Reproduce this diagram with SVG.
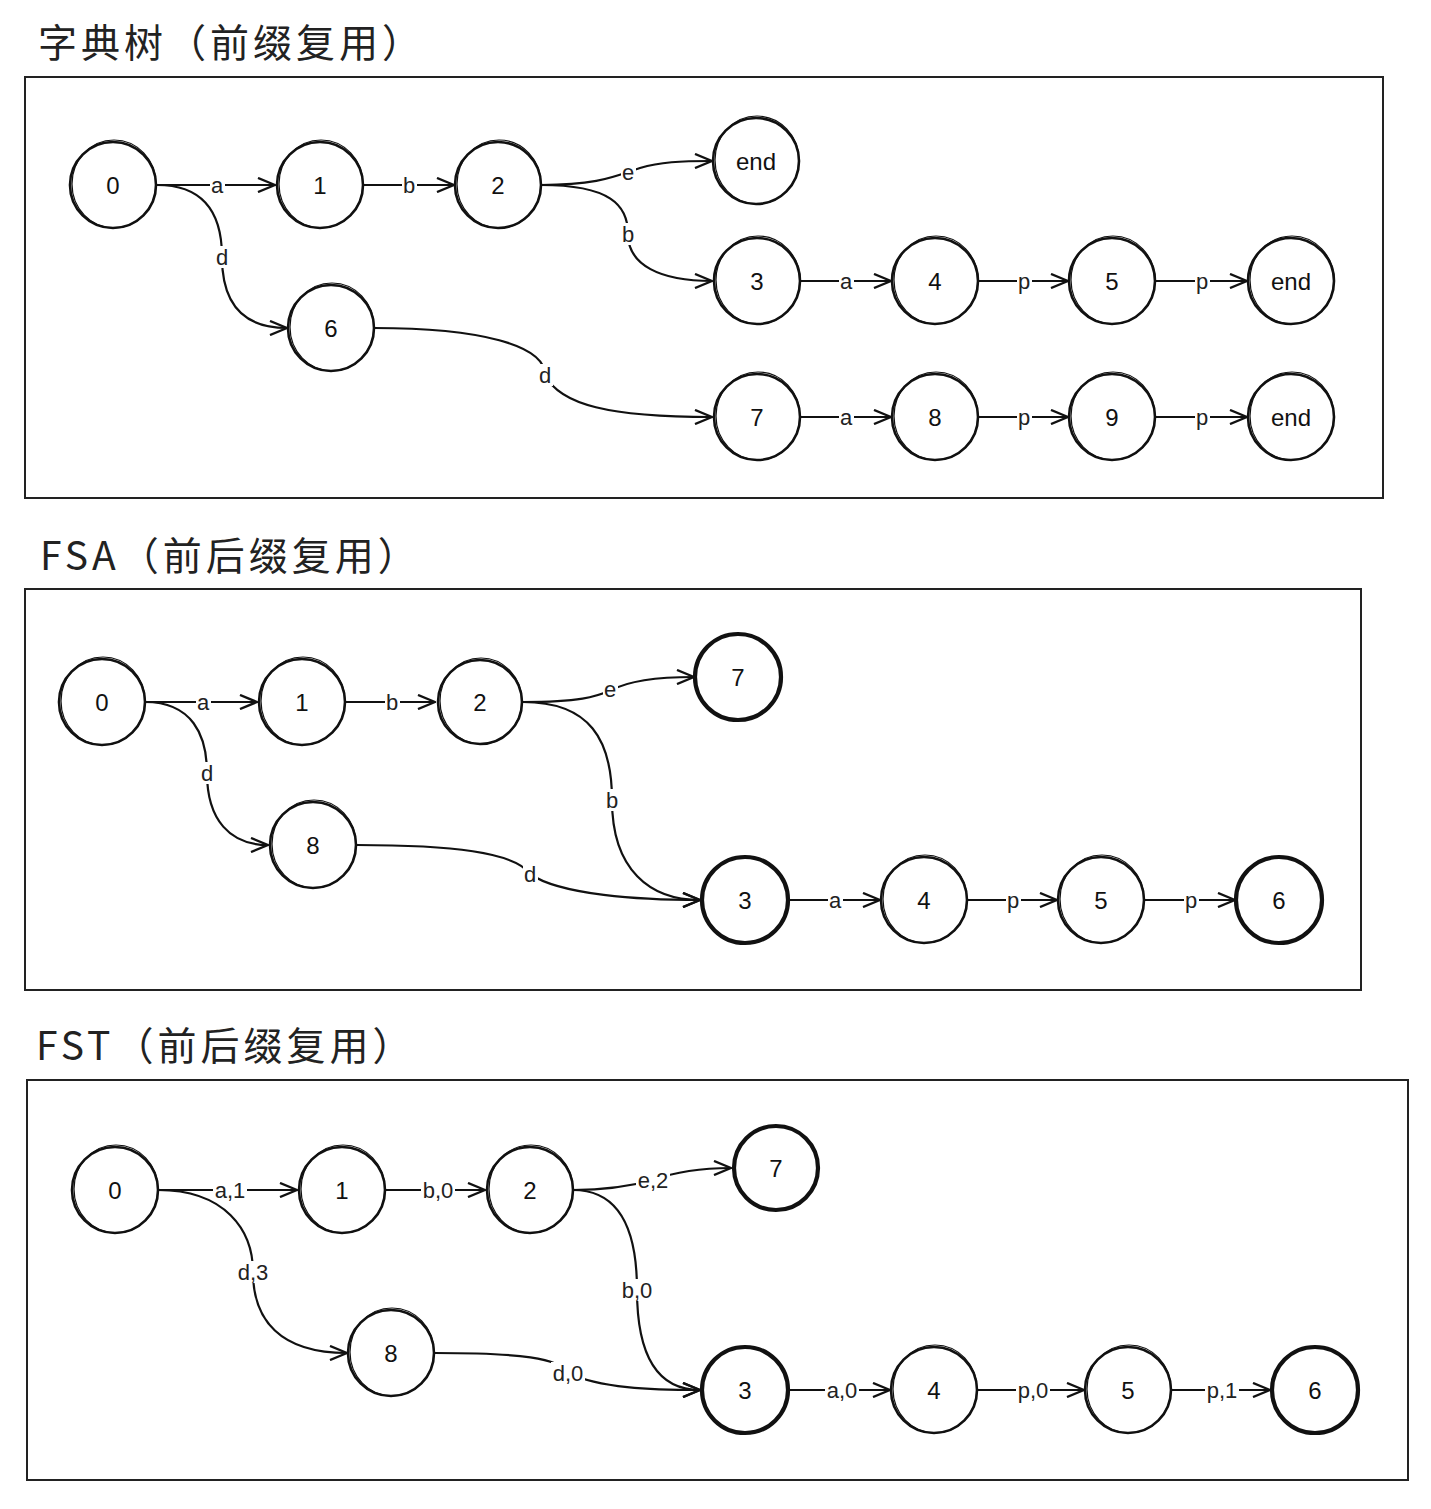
<svg xmlns="http://www.w3.org/2000/svg" width="1431" height="1509" viewBox="0 0 1431 1509">
<style>
.title{font-family:"Noto Sans CJK SC","Liberation Sans",sans-serif;font-size:39px;fill:#222;letter-spacing:4px}
.frame{fill:none;stroke:#222;stroke-width:2}
.n circle{fill:#fff;stroke:#111;stroke-width:2.6}
.n ellipse{fill:none;stroke:#111;stroke-width:1.2}
.b circle{stroke-width:4.2}
.n text{font-family:"Liberation Sans",Arial,sans-serif;font-size:24px;fill:#111;text-anchor:middle;dominant-baseline:central}
.e path{fill:none;stroke:#111;stroke-width:2.2;marker-end:url(#ah)}
.bg rect{fill:#fff}
.lb{font-family:"Liberation Sans",Arial,sans-serif;font-size:22px;fill:#222;text-anchor:middle;dominant-baseline:central}
</style>
<defs>
<marker id="ah" viewBox="0 0 20 16" refX="19" refY="8" markerWidth="20" markerHeight="16" markerUnits="userSpaceOnUse" orient="auto">
<path d="M2,1 L19,8 L2,15" fill="none" stroke="#111" stroke-width="2.4" stroke-linejoin="round"/>
</marker>
</defs>
<rect width="1431" height="1509" fill="#fff"/>

<text class="title" x="38" y="57">字典树（前缀复用）</text>
<rect class="frame" x="25" y="77" width="1358" height="421"/>
<text class="title" x="40" y="570">FSA（前后缀复用）</text>
<rect class="frame" x="25" y="589" width="1336" height="401"/>
<text class="title" x="36" y="1060">FST（前后缀复用）</text>
<rect class="frame" x="27" y="1080" width="1381" height="400"/>

<g id="connectors">
<g class="e">
<path d="M157,185 L275,185"/>
<path d="M363,185 L454,185"/>
<path d="M541,185 C600,185 615,176 640,168 C660,162 680,161 712,161"/>
<path d="M541,185 C610,185 628,205 628,234 C628,265 660,281 712,281"/>
<path d="M157,185 C205,185 222,215 222,257 C222,300 240,328 287,328"/>
<path d="M374,328 C480,328 545,345 545,375 C560,405 610,417 712,417"/>
<path d="M800,281 L891,281"/>
<path d="M978,281 L1068,281"/>
<path d="M1156,281 L1247,281"/>
<path d="M800,417 L891,417"/>
<path d="M978,417 L1068,417"/>
<path d="M1156,417 L1247,417"/>

<path d="M145,702 L257,702"/>
<path d="M345,702 L435,702"/>
<path d="M523,702 C580,702 595,697 612,690 C630,680 660,677 694,677"/>
<path d="M523,702 C590,702 612,740 612,800 C612,870 650,900 700,900"/>
<path d="M145,702 C192,702 207,735 207,773 C207,820 230,845 268,845"/>
<path d="M357,845 C450,845 515,852 530,874 C560,895 640,900 700,900"/>
<path d="M789,900 L880,900"/>
<path d="M968,900 L1057,900"/>
<path d="M1145,900 L1235,900"/>

<path d="M158,1190 L297,1190"/>
<path d="M385,1190 L485,1190"/>
<path d="M573,1190 C610,1190 635,1185 653,1180 C675,1172 700,1168 731,1168"/>
<path d="M573,1190 C620,1190 637,1230 637,1290 C637,1360 660,1390 700,1390"/>
<path d="M158,1190 C225,1190 253,1230 253,1272 C253,1320 280,1353 347,1353"/>
<path d="M435,1353 C520,1353 560,1358 568,1373 C600,1388 650,1390 700,1390"/>
<path d="M789,1390 L890,1390"/>
<path d="M978,1390 L1084,1390"/>
<path d="M1172,1390 L1270,1390"/>
</g>
<g class="bg">
<rect x="210" y="174" width="15" height="22"/>
<rect x="402" y="174" width="15" height="22"/>
<rect x="621" y="161" width="15" height="22"/>
<rect x="621" y="223" width="15" height="22"/>
<rect x="215" y="246" width="15" height="22"/>
<rect x="538" y="364" width="15" height="22"/>
<rect x="839" y="270" width="15" height="22"/>
<rect x="1017" y="270" width="15" height="22"/>
<rect x="1195" y="270" width="15" height="22"/>
<rect x="839" y="406" width="15" height="22"/>
<rect x="1017" y="406" width="15" height="22"/>
<rect x="1195" y="406" width="15" height="22"/>

<rect x="196" y="691" width="15" height="22"/>
<rect x="385" y="691" width="15" height="22"/>
<rect x="603" y="678" width="15" height="22"/>
<rect x="605" y="789" width="15" height="22"/>
<rect x="200" y="762" width="15" height="22"/>
<rect x="523" y="863" width="15" height="22"/>
<rect x="828" y="889" width="15" height="22"/>
<rect x="1006" y="889" width="15" height="22"/>
<rect x="1184" y="889" width="15" height="22"/>

<rect x="213" y="1179" width="34" height="22"/>
<rect x="421" y="1179" width="34" height="22"/>
<rect x="636" y="1169" width="34" height="22"/>
<rect x="620" y="1279" width="34" height="22"/>
<rect x="236" y="1261" width="34" height="22"/>
<rect x="551" y="1362" width="34" height="22"/>
<rect x="825" y="1379" width="34" height="22"/>
<rect x="1016" y="1379" width="34" height="22"/>
<rect x="1205" y="1379" width="34" height="22"/>
</g>
<text class="lb" x="217" y="185">a</text>
<text class="lb" x="409" y="185">b</text>
<text class="lb" x="628" y="172">e</text>
<text class="lb" x="628" y="234">b</text>
<text class="lb" x="222" y="257">d</text>
<text class="lb" x="545" y="375">d</text>
<text class="lb" x="846" y="281">a</text>
<text class="lb" x="1024" y="281">p</text>
<text class="lb" x="1202" y="281">p</text>
<text class="lb" x="846" y="417">a</text>
<text class="lb" x="1024" y="417">p</text>
<text class="lb" x="1202" y="417">p</text>

<text class="lb" x="203" y="702">a</text>
<text class="lb" x="392" y="702">b</text>
<text class="lb" x="610" y="689">e</text>
<text class="lb" x="612" y="800">b</text>
<text class="lb" x="207" y="773">d</text>
<text class="lb" x="530" y="874">d</text>
<text class="lb" x="835" y="900">a</text>
<text class="lb" x="1013" y="900">p</text>
<text class="lb" x="1191" y="900">p</text>

<text class="lb" x="230" y="1190">a,1</text>
<text class="lb" x="438" y="1190">b,0</text>
<text class="lb" x="653" y="1180">e,2</text>
<text class="lb" x="637" y="1290">b,0</text>
<text class="lb" x="253" y="1272">d,3</text>
<text class="lb" x="568" y="1373">d,0</text>
<text class="lb" x="842" y="1390">a,0</text>
<text class="lb" x="1033" y="1390">p,0</text>
<text class="lb" x="1222" y="1390">p,1</text>
</g>

<g id="t0" class="n"><circle cx="113" cy="185" r="43"/><ellipse cx="114" cy="184" rx="42" ry="44"/><text x="113" y="185">0</text></g>
<g id="t1" class="n"><circle cx="320" cy="185" r="43"/><ellipse cx="321" cy="184" rx="42" ry="44"/><text x="320" y="185">1</text></g>
<g id="t2" class="n"><circle cx="498" cy="185" r="43"/><ellipse cx="499" cy="184" rx="42" ry="44"/><text x="498" y="185">2</text></g>
<g id="tend1" class="n"><circle cx="756" cy="161" r="43"/><ellipse cx="757" cy="160" rx="42" ry="44"/><text x="756" y="161">end</text></g>
<g id="t3" class="n"><circle cx="757" cy="281" r="43"/><ellipse cx="758" cy="280" rx="42" ry="44"/><text x="757" y="281">3</text></g>
<g id="t4" class="n"><circle cx="935" cy="281" r="43"/><ellipse cx="936" cy="280" rx="42" ry="44"/><text x="935" y="281">4</text></g>
<g id="t5" class="n"><circle cx="1112" cy="281" r="43"/><ellipse cx="1113" cy="280" rx="42" ry="44"/><text x="1112" y="281">5</text></g>
<g id="tend2" class="n"><circle cx="1291" cy="281" r="43"/><ellipse cx="1292" cy="280" rx="42" ry="44"/><text x="1291" y="281">end</text></g>
<g id="t6" class="n"><circle cx="331" cy="328" r="43"/><ellipse cx="332" cy="327" rx="42" ry="44"/><text x="331" y="328">6</text></g>
<g id="t7" class="n"><circle cx="757" cy="417" r="43"/><ellipse cx="758" cy="416" rx="42" ry="44"/><text x="757" y="417">7</text></g>
<g id="t8" class="n"><circle cx="935" cy="417" r="43"/><ellipse cx="936" cy="416" rx="42" ry="44"/><text x="935" y="417">8</text></g>
<g id="t9" class="n"><circle cx="1112" cy="417" r="43"/><ellipse cx="1113" cy="416" rx="42" ry="44"/><text x="1112" y="417">9</text></g>
<g id="tend3" class="n"><circle cx="1291" cy="417" r="43"/><ellipse cx="1292" cy="416" rx="42" ry="44"/><text x="1291" y="417">end</text></g>

<g id="a0" class="n"><circle cx="102" cy="702" r="43"/><ellipse cx="103" cy="701" rx="42" ry="44"/><text x="102" y="702">0</text></g>
<g id="a1" class="n"><circle cx="302" cy="702" r="43"/><ellipse cx="303" cy="701" rx="42" ry="44"/><text x="302" y="702">1</text></g>
<g id="a2" class="n"><circle cx="480" cy="702" r="42"/><ellipse cx="481" cy="701" rx="41" ry="43"/><text x="480" y="702">2</text></g>
<g id="a7" class="n b"><circle cx="738" cy="677" r="43"/><text x="738" y="677">7</text></g>
<g id="a8" class="n"><circle cx="313" cy="845" r="43"/><ellipse cx="314" cy="844" rx="42" ry="44"/><text x="313" y="845">8</text></g>
<g id="a3" class="n b"><circle cx="745" cy="900" r="43"/><text x="745" y="900">3</text></g>
<g id="a4" class="n"><circle cx="924" cy="900" r="43"/><ellipse cx="925" cy="899" rx="42" ry="44"/><text x="924" y="900">4</text></g>
<g id="a5" class="n"><circle cx="1101" cy="900" r="43"/><ellipse cx="1102" cy="899" rx="42" ry="44"/><text x="1101" y="900">5</text></g>
<g id="a6" class="n b"><circle cx="1279" cy="900" r="43"/><text x="1279" y="900">6</text></g>

<g id="f0" class="n"><circle cx="115" cy="1190" r="43"/><ellipse cx="116" cy="1189" rx="42" ry="44"/><text x="115" y="1190">0</text></g>
<g id="f1" class="n"><circle cx="342" cy="1190" r="43"/><ellipse cx="343" cy="1189" rx="42" ry="44"/><text x="342" y="1190">1</text></g>
<g id="f2" class="n"><circle cx="530" cy="1190" r="43"/><ellipse cx="531" cy="1189" rx="42" ry="44"/><text x="530" y="1190">2</text></g>
<g id="f7" class="n b"><circle cx="776" cy="1168" r="42"/><text x="776" y="1168">7</text></g>
<g id="f8" class="n"><circle cx="391" cy="1353" r="43"/><ellipse cx="392" cy="1352" rx="42" ry="44"/><text x="391" y="1353">8</text></g>
<g id="f3" class="n b"><circle cx="745" cy="1390" r="43"/><text x="745" y="1390">3</text></g>
<g id="f4" class="n"><circle cx="934" cy="1390" r="43"/><ellipse cx="935" cy="1389" rx="42" ry="44"/><text x="934" y="1390">4</text></g>
<g id="f5" class="n"><circle cx="1128" cy="1390" r="43"/><ellipse cx="1129" cy="1389" rx="42" ry="44"/><text x="1128" y="1390">5</text></g>
<g id="f6" class="n b"><circle cx="1315" cy="1390" r="43"/><text x="1315" y="1390">6</text></g>
</svg>
